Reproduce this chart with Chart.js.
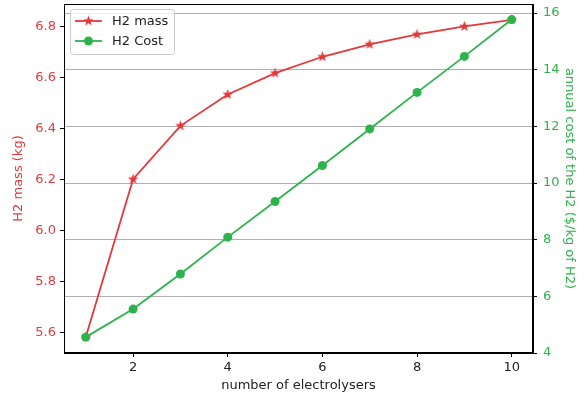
<!DOCTYPE html>
<html>
<head>
<meta charset="utf-8">
<script src="https://cdn.jsdelivr.net/npm/chart.js@4/dist/chart.umd.min.js"></script>
<style>
html,body{margin:0;padding:0;background:#fff;}
canvas{display:block;}
</style>
</head>
<body>
<canvas id="c" width="584" height="394"></canvas>
<script>
const electrolysers = [1,2,3,4,5,6,7,8,9,10];
const h2Mass = [5.583,6.202,6.411,6.534,6.618,6.682,6.731,6.770,6.801,6.827];
const h2Cost = [4.56,5.55,6.79,8.09,9.35,10.62,11.91,13.20,14.47,15.77];
const xTicks = [2,4,6,8,10];
const massTicks = [5.6,5.8,6.0,6.2,6.4,6.6,6.8];
const costTicks = [4,6,8,10,12,14,16];

const RED = '#e3393a';
const GREEN = '#2db34b';
const FONT = 'DejaVu Sans';

function makeStar(r){
  const s = Math.ceil(r*2)+2;
  const c = document.createElement('canvas');
  c.width = s; c.height = s;
  const ctx = c.getContext('2d');
  ctx.fillStyle = RED;
  ctx.beginPath();
  const cx = s/2, cy = s/2, ri = r*0.42;
  for(let i=0;i<10;i++){
    const rr = i%2===0 ? r : ri;
    const a = -Math.PI/2 + i*Math.PI/5;
    const x = cx + rr*Math.cos(a), y = cy + rr*Math.sin(a);
    if(i===0) ctx.moveTo(x,y); else ctx.lineTo(x,y);
  }
  ctx.closePath();
  ctx.fill();
  return c;
}
const star = makeStar(5.5);

function noPad(s){ s.paddingTop = 0; s.paddingBottom = 0; s.paddingLeft = 0; s.paddingRight = 0; }

const framePlugin = {
  id:'frame',
  afterDraw(chart){
    const {ctx, chartArea:a} = chart;
    ctx.save();
    ctx.strokeStyle = '#000';
    ctx.lineWidth = 1;
    ctx.strokeRect(Math.round(a.left)+0.5, Math.round(a.top)+0.5, Math.round(a.right-a.left)-1, Math.round(a.bottom-a.top)-1);
    // legend
    const lx = 70.5, ly = 9.5, lw = 104, lh = 45;
    ctx.fillStyle = 'rgba(255,255,255,0.8)';
    ctx.strokeStyle = '#cccccc';
    ctx.beginPath();
    if (ctx.roundRect) ctx.roundRect(lx,ly,lw,lh,3); else ctx.rect(lx,ly,lw,lh);
    ctx.fill(); ctx.stroke();
    const items = [
      {label:'H2 mass', color:RED, y:21, marker:'star'},
      {label:'H2 Cost', color:GREEN, y:41, marker:'circle'}
    ];
    items.forEach(it=>{
      ctx.strokeStyle = it.color;
      ctx.lineWidth = 1.8;
      ctx.beginPath();
      ctx.moveTo(75, it.y); ctx.lineTo(102, it.y);
      ctx.stroke();
      if(it.marker==='star'){
        ctx.drawImage(star, 88.5 - star.width/2, it.y - star.height/2);
      } else {
        ctx.fillStyle = it.color;
        ctx.beginPath(); ctx.arc(88.5, it.y, 4.5, 0, Math.PI*2); ctx.fill();
      }
      ctx.fillStyle = '#222';
      ctx.font = '13px "' + FONT + '"';
      ctx.textBaseline = 'middle';
      ctx.textAlign = 'left';
      ctx.fillText(it.label, 112, it.y+1);
    });
    ctx.restore();
  }
};

new Chart(document.getElementById('c'), {
  type:'line',
  data:{
    datasets:[
      {
        label:'H2 mass',
        data: electrolysers.map((x,i)=>({x, y:h2Mass[i]})),
        yAxisID:'yMass',
        borderColor:RED,
        backgroundColor:RED,
        borderWidth:1.8,
        pointStyle:star,
        pointRadius:5,
        order:1
      },
      {
        label:'H2 Cost',
        data: electrolysers.map((x,i)=>({x, y:h2Cost[i]})),
        yAxisID:'yCost',
        borderColor:GREEN,
        backgroundColor:GREEN,
        borderWidth:1.8,
        pointStyle:'circle',
        pointRadius:4.5,
        pointBorderWidth:0,
        order:0
      }
    ]
  },
  options:{
    responsive:false,
    animation:false,
    layout:{autoPadding:false, padding:{top:4,left:0,right:0,bottom:0}},
    plugins:{legend:{display:false}, tooltip:{enabled:false}},
    elements:{line:{tension:0}},
    scales:{
      x:{
        type:'linear',
        min:0.54, max:10.45,
        afterBuildTicks(s){ s.ticks = xTicks.map(v=>({value:v})); },
        afterFit(s){ s.height = 41; noPad(s); },
        grid:{drawOnChartArea:false, tickLength:4, tickColor:'#000'},
        border:{display:true, color:'#000'},
        ticks:{color:'#222', font:{family:FONT, size:13}, padding:3, maxRotation:0},
        title:{display:true, text:'number of electrolysers', color:'#222', font:{family:FONT, size:13}, padding:{top:0,bottom:1}}
      },
      yMass:{
        type:'linear', position:'left',
        min:5.52, max:6.889,
        afterBuildTicks(s){ s.ticks = massTicks.map(v=>({value:v})); },
        afterFit(s){ s.width = 64; noPad(s); },
        grid:{drawOnChartArea:false, tickLength:4, tickColor:'#000'},
        border:{display:true, color:'#000'},
        ticks:{color:RED, font:{family:FONT, size:13}, padding:4, callback:v=>v.toFixed(1)},
        title:{display:true, text:'H2 mass (kg)', color:RED, font:{family:FONT, size:13}, padding:{top:11,bottom:0}}
      },
      yCost:{
        type:'linear', position:'right',
        min:4, max:16.32,
        afterBuildTicks(s){ s.ticks = costTicks.map(v=>({value:v})); },
        afterFit(s){ s.width = 51; noPad(s); },
        grid:{drawOnChartArea:true, color:'#b0b0b0', lineWidth:1, tickLength:4, tickColor:'#000'},
        border:{display:true, color:'#000'},
        ticks:{color:GREEN, font:{family:FONT, size:13}, padding:6, callback:v=>String(v)},
        title:{display:true, text:'annual cost of the H2 ($/kg of H2)', color:GREEN, font:{family:FONT, size:13}, padding:{top:7,bottom:0}}
      }
    }
  },
  plugins:[framePlugin]
});
</script>
</body>
</html>
